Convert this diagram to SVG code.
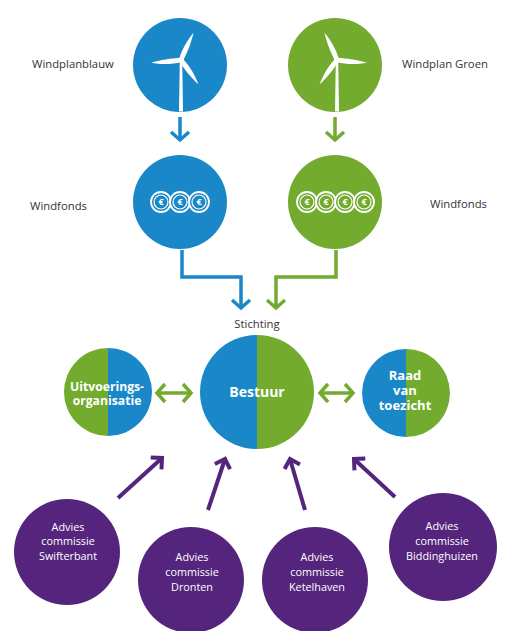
<svg xmlns="http://www.w3.org/2000/svg" width="510" height="631" viewBox="0 0 510 631">
<style>
.blue{fill:#1a88c8}
.green{fill:#72ab2e}
.purple{fill:#55257d}
.lbl{font-family:"Open Sans","Noto Sans",sans-serif;font-size:11.3px;fill:#333}
.wb{font-family:"Open Sans","Noto Sans",sans-serif;font-weight:bold;fill:#fff;text-anchor:middle}
.wt{font-family:"Open Sans","Noto Sans",sans-serif;font-size:10.8px;fill:#fff;text-anchor:middle}
.cb{fill:none;stroke:#1a88c8;stroke-width:3.5}
.cg{fill:none;stroke:#72ab2e;stroke-width:3.5}
.cp{fill:none;stroke:#55257d;stroke-width:4}
.coin-o{stroke:#fff;stroke-width:1.8}
.coin-i{fill:none;stroke:#fff;stroke-width:1.2}
.euro{font-family:"Open Sans","Noto Sans",sans-serif;font-weight:bold;font-size:9px;fill:#fff;text-anchor:middle}
.tw{fill:#fff}
</style>
<defs>
<marker id="ab" markerUnits="userSpaceOnUse" markerWidth="30" markerHeight="30" refX="0" refY="0" orient="auto-start-reverse" overflow="visible" viewBox="-15 -15 30 30">
<path d="M-8,-9 L0,0 L-8,9" fill="none" stroke="#1a88c8" stroke-width="3.5"/>
</marker>
<marker id="ag" markerUnits="userSpaceOnUse" markerWidth="30" markerHeight="30" refX="0" refY="0" orient="auto-start-reverse" overflow="visible" viewBox="-15 -15 30 30">
<path d="M-8,-9 L0,0 L-8,9" fill="none" stroke="#72ab2e" stroke-width="3.5"/>
</marker>
<marker id="ap" markerUnits="userSpaceOnUse" markerWidth="30" markerHeight="30" refX="0" refY="0" orient="auto" overflow="visible" viewBox="-15 -15 30 30">
<path d="M-8,-8 L0,0 L-8,8" fill="none" stroke="#55257d" stroke-width="4"/>
</marker>
<path id="blade" d="M-2,0 C-3.4,-9 -1.6,-21 1.4,-30 C2.8,-21 3.2,-9 2,0 Z" class="tw"/>
<g id="rotor">
<use href="#blade" transform="rotate(22)"/>
<use href="#blade" transform="rotate(142)"/>
<use href="#blade" transform="rotate(262)"/>
<circle r="2.8" class="tw"/>
</g>
</defs>

<g id="windplanblauw">
<circle cx="180" cy="65" r="47" class="blue"/>
<polygon points="179.8,60 182.2,60 183,111.5 179,111.5" class="tw"/>
<use href="#rotor" transform="translate(181,60)"/>
<text x="32" y="68" class="lbl">Windplanblauw</text>
</g>

<g id="windplangroen">
<circle cx="335" cy="65" r="47" class="green"/>
<polygon points="335.8,60 338.2,60 339,111.5 335,111.5" class="tw"/>
<use href="#rotor" transform="translate(337,60) scale(-1,1)"/>
<text x="402" y="68" class="lbl">Windplan Groen</text>
</g>

<g id="windfonds-blauw">
<circle cx="180" cy="202" r="47" class="blue"/>
<g>
<circle cx="161" cy="202" r="10" class="blue coin-o"/><circle cx="161" cy="202" r="7" class="coin-i"/><text x="161" y="205.3" class="euro">€</text>
<circle cx="180" cy="202" r="10" class="blue coin-o"/><circle cx="180" cy="202" r="7" class="coin-i"/><text x="180" y="205.3" class="euro">€</text>
<circle cx="199" cy="202" r="10" class="blue coin-o"/><circle cx="199" cy="202" r="7" class="coin-i"/><text x="199" y="205.3" class="euro">€</text>
</g>
<text x="30" y="210" class="lbl">Windfonds</text>
</g>

<g id="windfonds-groen">
<circle cx="335" cy="202" r="47" class="green"/>
<g>
<circle cx="307" cy="202" r="10" class="green coin-o"/><circle cx="307" cy="202" r="7" class="coin-i"/><text x="307" y="205.3" class="euro">€</text>
<circle cx="326" cy="202" r="10" class="green coin-o"/><circle cx="326" cy="202" r="7" class="coin-i"/><text x="326" y="205.3" class="euro">€</text>
<circle cx="345" cy="202" r="10" class="green coin-o"/><circle cx="345" cy="202" r="7" class="coin-i"/><text x="345" y="205.3" class="euro">€</text>
<circle cx="364" cy="202" r="10" class="green coin-o"/><circle cx="364" cy="202" r="7" class="coin-i"/><text x="364" y="205.3" class="euro">€</text>
</g>
<text x="430" y="208" class="lbl">Windfonds</text>
</g>

<g id="stichting-label">
<text x="257" y="328" class="lbl" text-anchor="middle">Stichting</text>
</g>

<g id="uitvoeringsorganisatie">
<path d="M108,348 A44,44 0 0 0 108,436 Z" class="green"/>
<path d="M108,348 A44,44 0 0 1 108,436 Z" class="blue"/>
<text x="107" y="391" class="wb" font-size="12.2">Uitvoerings-</text>
<text x="107" y="405" class="wb" font-size="12.2">organisatie</text>
</g>

<g id="bestuur">
<path d="M257,335 A57,57 0 0 0 257,449 Z" class="blue"/>
<path d="M257,335 A57,57 0 0 1 257,449 Z" class="green"/>
<text x="257" y="397" class="wb" font-size="14">Bestuur</text>
</g>

<g id="raad-van-toezicht">
<path d="M406,349 A44,44 0 0 0 406,437 Z" class="blue"/>
<path d="M406,349 A44,44 0 0 1 406,437 Z" class="green"/>
<text x="405" y="380" class="wb" font-size="13">Raad</text>
<text x="405" y="395" class="wb" font-size="13">van</text>
<text x="405" y="410" class="wb" font-size="13">toezicht</text>
</g>

<g id="advies-swifterbant">
<circle cx="67" cy="552" r="53" class="purple"/>
<text x="68" y="531" class="wt">Advies</text>
<text x="68" y="545" class="wt">commissie</text>
<text x="68" y="560" class="wt">Swifterbant</text>
</g>

<g id="advies-dronten">
<circle cx="191" cy="580" r="53" class="purple"/>
<text x="192" y="561" class="wt">Advies</text>
<text x="192" y="576" class="wt">commissie</text>
<text x="192" y="591" class="wt">Dronten</text>
</g>

<g id="advies-ketelhaven">
<circle cx="315" cy="580" r="53" class="purple"/>
<text x="317" y="561" class="wt">Advies</text>
<text x="317" y="576" class="wt">commissie</text>
<text x="317" y="591" class="wt">Ketelhaven</text>
</g>

<g id="advies-biddinghuizen">
<circle cx="443" cy="547" r="54" class="purple"/>
<text x="442" y="530" class="wt">Advies</text>
<text x="442" y="545" class="wt">commissie</text>
<text x="442" y="560" class="wt">Biddinghuizen</text>
</g>

<g id="connectors">
<line x1="180" y1="117" x2="180" y2="140" class="cb" marker-end="url(#ab)"/>
<line x1="335" y1="117" x2="335" y2="140" class="cg" marker-end="url(#ag)"/>
<polyline points="182,250 182,277 241,277 241,308" class="cb" marker-end="url(#ab)"/>
<polyline points="336,250 336,277 276,277 276,308" class="cg" marker-end="url(#ag)"/>
<line x1="157" y1="393" x2="191" y2="393" class="cg" marker-start="url(#ag)" marker-end="url(#ag)"/>
<line x1="320" y1="393" x2="353" y2="393" class="cg" marker-start="url(#ag)" marker-end="url(#ag)"/>
<line x1="118" y1="498" x2="162" y2="458" class="cp" marker-end="url(#ap)"/>
<line x1="208" y1="510" x2="225" y2="459" class="cp" marker-end="url(#ap)"/>
<line x1="305" y1="510" x2="290" y2="459" class="cp" marker-end="url(#ap)"/>
<line x1="395" y1="497" x2="354" y2="459" class="cp" marker-end="url(#ap)"/>
</g>
</svg>
